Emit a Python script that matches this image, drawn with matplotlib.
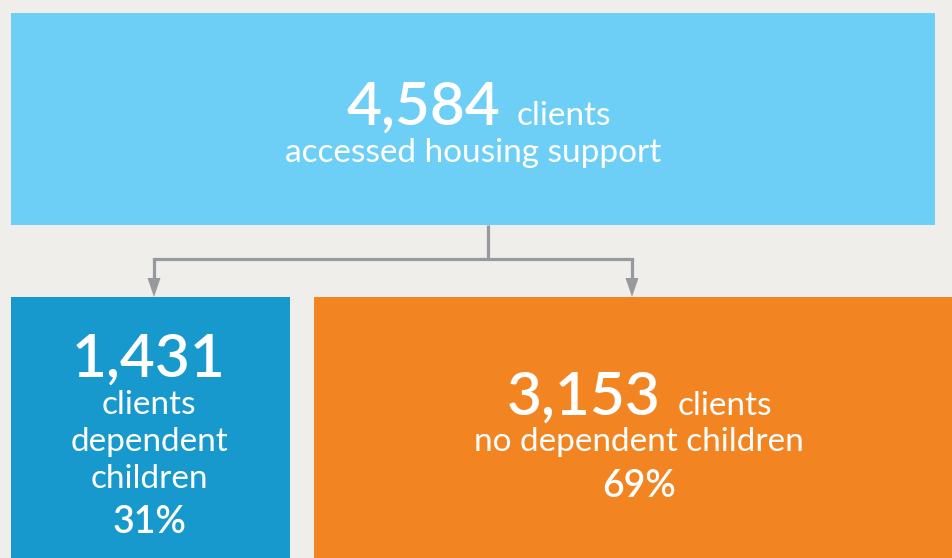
import matplotlib
matplotlib.use("Agg")
import matplotlib.pyplot as plt
from matplotlib.patches import Rectangle, Polygon

plt.rcParams['font.family'] = ['Lato', 'DejaVu Sans']

# ---- data ----
total_clients = 4584
group_labels = ["dependent\nchildren", "no dependent children"]
group_counts = [1431, 3153]
group_shares = [31, 69]

BG = "#EFEEEA"
C_TOP = "#6DCFF6"
C_LEFT = "#1799CD"
C_RIGHT = "#F28522"
C_LINE = "#969A9C"

W, H = 952, 558
fig = plt.figure(figsize=(W / 100, H / 100), dpi=100, facecolor=BG)
ax = fig.add_axes([0, 0, 1, 1])
ax.set_xlim(0, W)
ax.set_ylim(H, 0)
ax.axis("off")
ax.set_facecolor(BG)

# boxes (x0, y0, x1, y1)
top = (11, 13, 935, 225)
left = (11, 297, 290, 570)
right = (314, 297, 970, 570)
for (x0, y0, x1, y1), c in [(top, C_TOP), (left, C_LEFT), (right, C_RIGHT)]:
    ax.add_patch(Rectangle((x0, y0), x1 - x0, y1 - y0, facecolor=c, edgecolor="none"))

# connectors
lw = 2.3
ax.plot([488, 488], [225, 259], color=C_LINE, lw=lw, solid_capstyle="butt")
ax.plot([154, 632], [259, 259], color=C_LINE, lw=lw, solid_capstyle="projecting")
for xa in (154, 632):
    ax.plot([xa, xa], [259, 280], color=C_LINE, lw=lw, solid_capstyle="butt")
    ax.add_patch(Polygon([(xa - 6.5, 278), (xa + 6.5, 278), (xa, 297)],
                         closed=True, facecolor=C_LINE, edgecolor="none"))

WHITE = "white"
big = 43.5
mid = 24
pct = 27

def fmt(n):
    return f"{n:,}"

# top box text
ax.text(500, 125, fmt(total_clients), fontsize=big, fontweight="semibold", color=WHITE,
        ha="right", va="baseline")
ax.text(517, 125, "clients", fontsize=mid, color=WHITE, ha="left", va="baseline")
ax.text(473, 162, "accessed housing support", fontsize=mid, color=WHITE,
        ha="center", va="baseline")

# left box text
cx = 149
ax.text(cx, 377, fmt(group_counts[0]), fontsize=big, fontweight="semibold", color=WHITE,
        ha="center", va="baseline")
ax.text(cx, 414, "clients", fontsize=mid, color=WHITE, ha="center", va="baseline")
ax.text(cx, 451, group_labels[0].split("\n")[0], fontsize=mid, color=WHITE, ha="center", va="baseline")
ax.text(cx, 488, group_labels[0].split("\n")[1], fontsize=mid, color=WHITE, ha="center", va="baseline")
ax.text(cx, 533, f"{group_shares[0]}%", fontsize=pct, fontweight="semibold", color=WHITE,
        ha="center", va="baseline")

# right box text
ax.text(661, 415, fmt(group_counts[1]), fontsize=big, fontweight="semibold", color=WHITE,
        ha="right", va="baseline")
ax.text(678, 415, "clients", fontsize=mid, color=WHITE, ha="left", va="baseline")
ax.text(639, 451, group_labels[1], fontsize=mid, color=WHITE, ha="center", va="baseline")
ax.text(639, 497, f"{group_shares[1]}%", fontsize=pct, fontweight="semibold", color=WHITE,
        ha="center", va="baseline")

fig.savefig("out.png", dpi=100, facecolor=BG)
